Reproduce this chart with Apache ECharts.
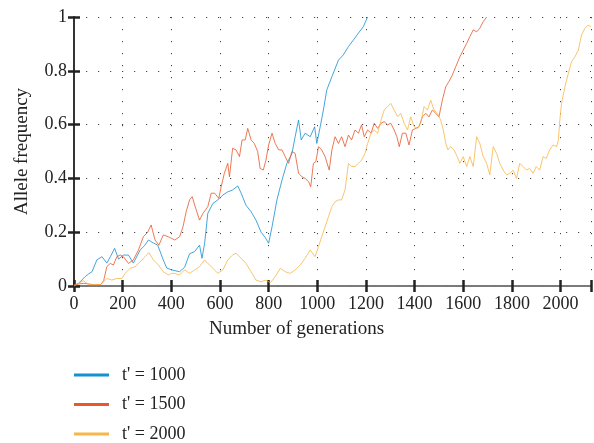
<!DOCTYPE html>
<html>
<head>
<meta charset="utf-8">
<script src="https://cdn.jsdelivr.net/npm/echarts@6/dist/echarts.min.js"></script>
<style>
  html, body { margin: 0; padding: 0; background: #fff; }
  #chart { width: 594px; height: 443px; }
</style>
</head>
<body>
<div id="chart"></div>
<script>
// allele frequency traces, [generation, frequency]
var seriesNames = ["t' = 1000", "t' = 1500", "t' = 2000"]
var colorList = ['#1590d0', '#e9582a', '#f7b648']

var t1000 = [
  [0, 0.0], [19, 0.01], [46, 0.035], [60, 0.045], [74, 0.053], [94, 0.097], [115, 0.109], [135, 0.085],
  [150, 0.11], [167, 0.14], [183, 0.10], [203, 0.115], [224, 0.115], [244, 0.085], [272, 0.134], [290, 0.15],
  [306, 0.171], [326, 0.16], [344, 0.152], [367, 0.097], [381, 0.067], [401, 0.06], [434, 0.053], [455, 0.07],
  [475, 0.12], [496, 0.128], [516, 0.152], [526, 0.103], [537, 0.159], [550, 0.27], [571, 0.307], [591, 0.32],
  [612, 0.338], [632, 0.35], [652, 0.357], [673, 0.372], [687, 0.345], [707, 0.30], [728, 0.276], [748, 0.245],
  [769, 0.20], [786, 0.18], [800, 0.159], [814, 0.22], [834, 0.32], [855, 0.394], [875, 0.456], [896, 0.493],
  [909, 0.555], [923, 0.617], [934, 0.543], [950, 0.568], [971, 0.555], [989, 0.592], [998, 0.53], [1012, 0.592],
  [1025, 0.654], [1039, 0.729], [1060, 0.778], [1087, 0.84], [1107, 0.859], [1128, 0.89], [1148, 0.914],
  [1169, 0.94], [1189, 0.964], [1207, 1.0]
]

var t1500 = [
  [0, 0.005], [40, 0.01], [80, 0.005], [110, 0.005], [122, 0.02], [135, 0.072], [149, 0.084], [162, 0.078],
  [176, 0.109], [190, 0.115], [203, 0.109], [224, 0.084], [244, 0.097], [265, 0.134], [285, 0.183], [303, 0.20],
  [317, 0.227], [333, 0.171], [349, 0.152], [367, 0.19], [388, 0.183], [401, 0.177], [414, 0.171], [434, 0.183],
  [448, 0.22], [461, 0.276], [475, 0.32], [486, 0.332], [500, 0.289], [516, 0.245], [530, 0.27], [550, 0.295],
  [564, 0.345], [578, 0.345], [595, 0.326], [605, 0.369], [618, 0.419], [632, 0.456], [639, 0.406], [652, 0.512],
  [666, 0.506], [680, 0.481], [691, 0.543], [704, 0.543], [714, 0.586], [728, 0.543], [741, 0.53], [755, 0.5],
  [765, 0.437], [778, 0.431], [789, 0.468], [800, 0.524], [814, 0.568], [827, 0.53], [841, 0.506], [855, 0.506],
  [868, 0.481], [882, 0.456], [896, 0.5], [909, 0.493], [923, 0.419], [937, 0.406], [950, 0.4], [964, 0.388],
  [973, 0.369], [984, 0.456], [994, 0.462], [1005, 0.518], [1018, 0.506], [1032, 0.481], [1049, 0.431],
  [1060, 0.506], [1073, 0.555], [1087, 0.53], [1100, 0.555], [1114, 0.518], [1128, 0.561], [1141, 0.543],
  [1155, 0.58], [1169, 0.568], [1182, 0.599], [1193, 0.555], [1207, 0.58], [1221, 0.568], [1234, 0.605],
  [1248, 0.586], [1262, 0.605], [1275, 0.611], [1289, 0.599], [1302, 0.605], [1316, 0.58], [1327, 0.555],
  [1337, 0.518], [1350, 0.568], [1364, 0.568], [1377, 0.524], [1391, 0.58], [1405, 0.586], [1418, 0.592],
  [1432, 0.629], [1446, 0.642], [1459, 0.629], [1473, 0.654], [1487, 0.642], [1500, 0.629], [1514, 0.691],
  [1528, 0.741], [1541, 0.76], [1555, 0.784], [1569, 0.815], [1586, 0.852], [1600, 0.877], [1614, 0.902],
  [1627, 0.927], [1641, 0.952], [1655, 0.945], [1668, 0.958], [1682, 0.983], [1696, 1.0]
]

var t2000 = [
  [0, 0.0], [20, 0.01], [38, 0.02], [60, 0.005], [110, 0.005], [135, 0.028], [156, 0.022], [176, 0.028],
  [197, 0.028], [210, 0.047], [231, 0.066], [251, 0.072], [272, 0.09], [292, 0.109], [308, 0.124], [326, 0.097],
  [347, 0.078], [367, 0.053], [388, 0.041], [401, 0.047], [414, 0.047], [434, 0.041], [455, 0.06], [475, 0.047],
  [496, 0.06], [516, 0.072], [537, 0.097], [550, 0.084], [571, 0.066], [591, 0.047], [612, 0.06], [632, 0.097],
  [652, 0.115], [666, 0.122], [687, 0.103], [707, 0.084], [728, 0.053], [748, 0.022], [769, 0.016], [789, 0.022],
  [807, 0.012], [827, 0.035], [848, 0.066], [868, 0.053], [889, 0.047], [909, 0.06], [930, 0.078], [950, 0.103],
  [971, 0.134], [991, 0.109], [1005, 0.146], [1018, 0.183], [1032, 0.22], [1046, 0.258], [1060, 0.295],
  [1073, 0.313], [1087, 0.32], [1100, 0.32], [1114, 0.357], [1121, 0.406], [1128, 0.456], [1141, 0.444],
  [1155, 0.444], [1169, 0.456], [1182, 0.468], [1196, 0.493], [1207, 0.53], [1221, 0.568], [1234, 0.58],
  [1248, 0.568], [1262, 0.617], [1275, 0.654], [1289, 0.667], [1302, 0.679], [1316, 0.654], [1330, 0.629],
  [1343, 0.642], [1357, 0.605], [1371, 0.58], [1384, 0.629], [1398, 0.592], [1412, 0.586], [1425, 0.605],
  [1439, 0.667], [1453, 0.654], [1466, 0.691], [1480, 0.654], [1494, 0.642], [1507, 0.617], [1518, 0.58],
  [1528, 0.53], [1537, 0.506], [1548, 0.518], [1562, 0.506], [1575, 0.481], [1586, 0.456], [1600, 0.481],
  [1614, 0.444], [1627, 0.481], [1641, 0.444], [1655, 0.555], [1668, 0.53], [1682, 0.481], [1696, 0.456],
  [1709, 0.413], [1723, 0.518], [1737, 0.493], [1750, 0.456], [1764, 0.431], [1778, 0.413], [1791, 0.419],
  [1805, 0.431], [1819, 0.4], [1832, 0.456], [1846, 0.444], [1860, 0.431], [1873, 0.437], [1887, 0.419],
  [1900, 0.444], [1914, 0.431], [1928, 0.481], [1941, 0.474], [1955, 0.506], [1969, 0.524], [1984, 0.518],
  [1991, 0.543], [1997, 0.617], [2004, 0.679], [2018, 0.741], [2032, 0.791], [2045, 0.834], [2059, 0.852],
  [2073, 0.877], [2086, 0.933], [2100, 0.958], [2113, 0.97], [2125, 0.964]
]

var xMax = 2125
var fontFamily = '"Liberation Serif", "DejaVu Serif", serif'

var chart = echarts.init(document.getElementById('chart'))

var dotted = {
  show: true,
  lineStyle: { color: '#444', width: 1, type: [1.2, 10.8] }
}

var option = {
  animation: false,
  color: colorList,
  grid: { left: 74, right: 1, top: 17, bottom: 157, containLabel: false },
  legend: {
    orient: 'vertical',
    left: 74,
    top: 366,
    padding: 0,
    icon: 'rect',
    itemWidth: 35,
    itemHeight: 3,
    itemGap: 11.5,
    textStyle: { fontFamily: fontFamily, fontSize: 18, color: '#222', padding: [0, 0, 0, 8] },
    data: seriesNames
  },
  xAxis: [
    {
      type: 'value',
      min: 0,
      max: xMax,
      interval: 200,
      name: 'Number of generations',
      nameLocation: 'middle',
      nameGap: 34,
      nameTextStyle: { fontFamily: fontFamily, fontSize: 19, color: '#222', padding: [0, 72, 0, 0] },
      axisLine: { show: true, lineStyle: { color: '#666', width: 1.5 } },
      axisTick: { show: true, inside: true, length: 6, lineStyle: { color: '#222', width: 2.5 } },
      axisLabel: {
        fontFamily: fontFamily, fontSize: 18, color: '#222', margin: 9,
        formatter: function (v) { return v % 200 === 0 ? String(v) : '' }
      },
      splitLine: dotted
    },
    {
      type: 'value',
      position: 'top',
      min: 0,
      max: xMax,
      interval: 200,
      axisLine: { show: true, lineStyle: { color: '#777', width: 1.5 } },
      axisTick: { show: true, inside: true, length: 6, lineStyle: { color: '#222', width: 2.5 } },
      axisLabel: { show: false },
      splitLine: { show: false }
    }
  ],
  yAxis: [
    {
      type: 'value',
      min: 0,
      max: 1,
      interval: 0.2,
      name: 'Allele frequency',
      nameLocation: 'middle',
      nameGap: 42,
      nameTextStyle: { fontFamily: fontFamily, fontSize: 19, color: '#222' },
      axisLine: { show: true, lineStyle: { color: '#333', width: 2 } },
      axisTick: { show: true, inside: true, length: 6, lineStyle: { color: '#222', width: 2.5 } },
      axisLabel: { fontFamily: fontFamily, fontSize: 18, color: '#222', margin: 7 },
      splitLine: dotted
    },
    {
      type: 'value',
      position: 'right',
      min: 0,
      max: 1,
      interval: 0.2,
      axisLine: { show: false },
      axisTick: { show: true, inside: true, length: 6, lineStyle: { color: '#222', width: 2.5 } },
      axisLabel: { show: false },
      splitLine: { show: false }
    }
  ],
  series: []
}

option.series = [t1000, t1500, t2000].map(function (d, index) {
  return {
    name: seriesNames[index],
    type: 'line',
    showSymbol: false,
    clip: true,
    lineStyle: { color: colorList[index], width: 1, opacity: 0.8 },
    itemStyle: { color: colorList[index] },
    data: d
  }
})

chart.setOption(option)
</script>
</body>
</html>
